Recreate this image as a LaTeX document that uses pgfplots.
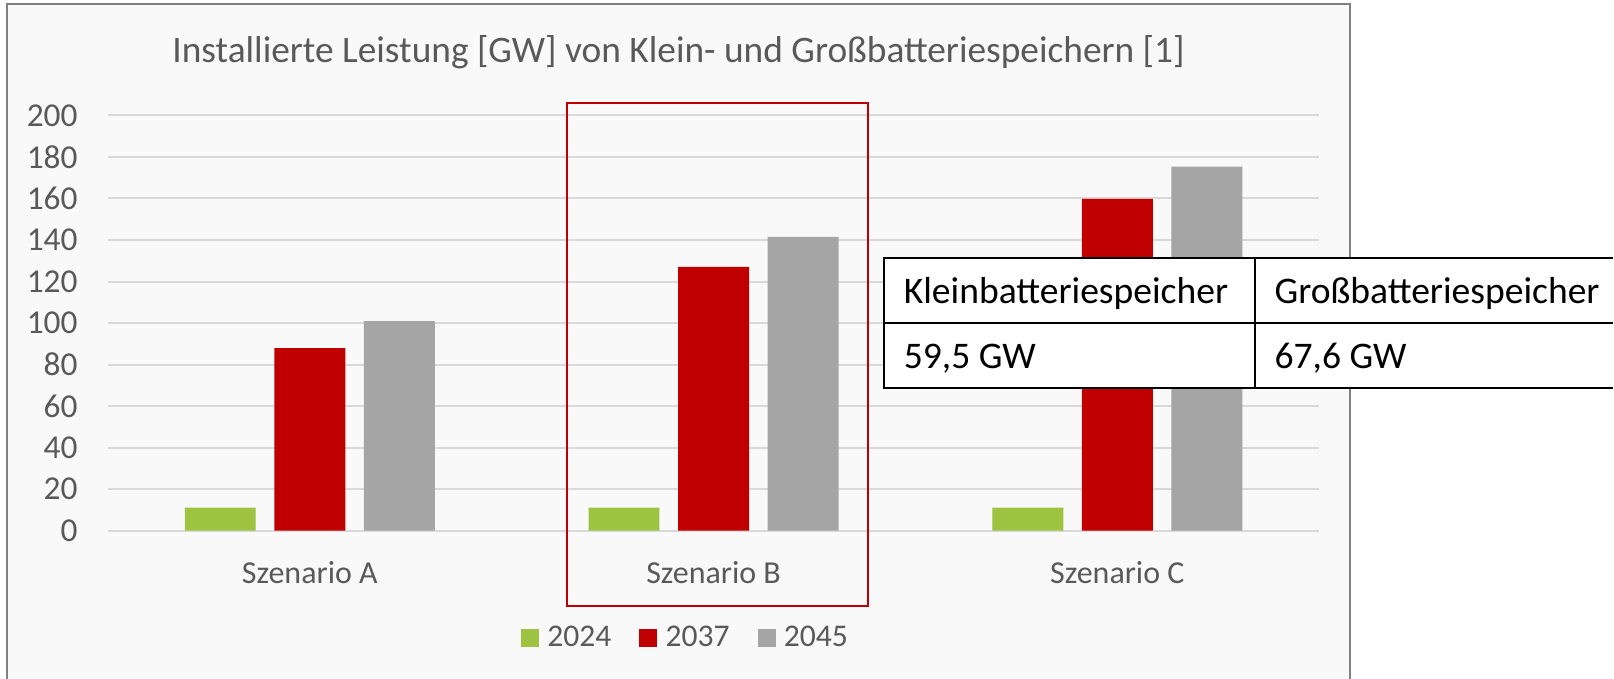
\documentclass[border=0pt]{standalone}
\usepackage{fontspec}
\setmainfont{Carlito}
\usepackage{pgfplots}
\usepackage{pgfplotstable}
\pgfplotsset{compat=1.18}
\definecolor{cgreen}{RGB}{157,195,64}
\definecolor{cred}{RGB}{192,0,0}
\definecolor{cgray}{RGB}{165,165,165}
\definecolor{gridc}{RGB}{217,217,217}
\definecolor{txt}{RGB}{89,89,89}
\definecolor{bgc}{RGB}{249,249,249}
\definecolor{framec}{RGB}{128,128,128}

\pgfplotstableread{
x y2024 y2037 y2045
0 11.1 87.9 100.9
1 11.1 127.1 141.5
2 11.1 159.8 175.4
}\datatable

\begin{document}
\begin{tikzpicture}
\begin{scope}[x=0.5pt,y=-0.5pt]
\useasboundingbox (0,0) rectangle (1614,679);
\fill[white] (0,0) rectangle (1614,679);
\begin{scope}
\clip (0,0) rectangle (1614,679);
\filldraw[fill=bgc, draw=framec, line width=1pt] (7,4) rectangle (1351,700);
\end{scope}
\node[text=txt, font=\fontsize{18.7}{22}\selectfont, anchor=base, inner sep=0pt] at (679,63) {Installierte Leistung [GW] von Klein- und Großbatteriespeichern [1]};
\end{scope}
\begin{axis}[
  at={(54pt,-265.5pt)}, anchor=south west,
  scale only axis, width=606pt, height=207.75pt,
  ymin=0, ymax=200, xmin=-0.5, xmax=2.5,
  axis line style={draw=none},
  ytick={0,20,...,200}, xtick={0,1,2},
  xticklabels={Szenario A,Szenario B,Szenario C},
  major tick length=0pt,
  ymajorgrids, major grid style={gridc, line width=1pt},
  /pgf/number format/assume math mode=true,
  yticklabel style={font=\fontsize{16.7}{19}\selectfont, text=txt, anchor=east, inner sep=0pt, xshift=-15pt},
  xticklabel style={font=\fontsize{16}{19}\selectfont, text=txt, anchor=base, inner sep=0pt, yshift=-26.2pt},
  ybar, bar width=35.5pt,
  legend columns=3,
  legend style={at={(0.4777,-0.2575)}, anchor=center, draw=none, fill=none,
    font=\fontsize{15.8}{18}\selectfont, text=txt,
    /tikz/every odd column/.append style={column sep=2.1pt},
    /tikz/every even column/.append style={column sep=12pt}},
  legend image code/.code={\fill[#1] (0pt,-4.5pt) rectangle (9pt,4.5pt);},
]
\addplot[fill=cgreen, draw=none, bar shift=-44.8pt] table[x=x, y=y2024] {\datatable};
\addplot[fill=cred, draw=none, bar shift=0pt] table[x=x, y=y2037] {\datatable};
\addplot[fill=cgray, draw=none, bar shift=44.8pt] table[x=x, y=y2045] {\datatable};
\legend{2024,2037,2045}
\end{axis}
\begin{scope}[x=0.5pt,y=-0.5pt]
\draw[cred, line width=1pt] (567,103) rectangle (869,606);
\fill[white] (885,258) rectangle (1614,388);
\draw[black, line width=1pt] (1614,258) -- (885,258) -- (885,388) -- (1614,388);
\draw[black, line width=1pt] (885,323) -- (1614,323);
\draw[black, line width=1pt] (1256,258) -- (1256,388);
\begin{scope}[every node/.style={anchor=base west, inner sep=0pt, font=\fontsize{18.8}{22}\selectfont, text=black}]
\node at (904,304) {Kleinbatteriespeicher};
\node at (1275,304) {Großbatteriespeicher};
\node at (904,369) {59,5 GW};
\node at (1275,369) {67,6 GW};
\end{scope}
\end{scope}
\end{tikzpicture}
\end{document}
